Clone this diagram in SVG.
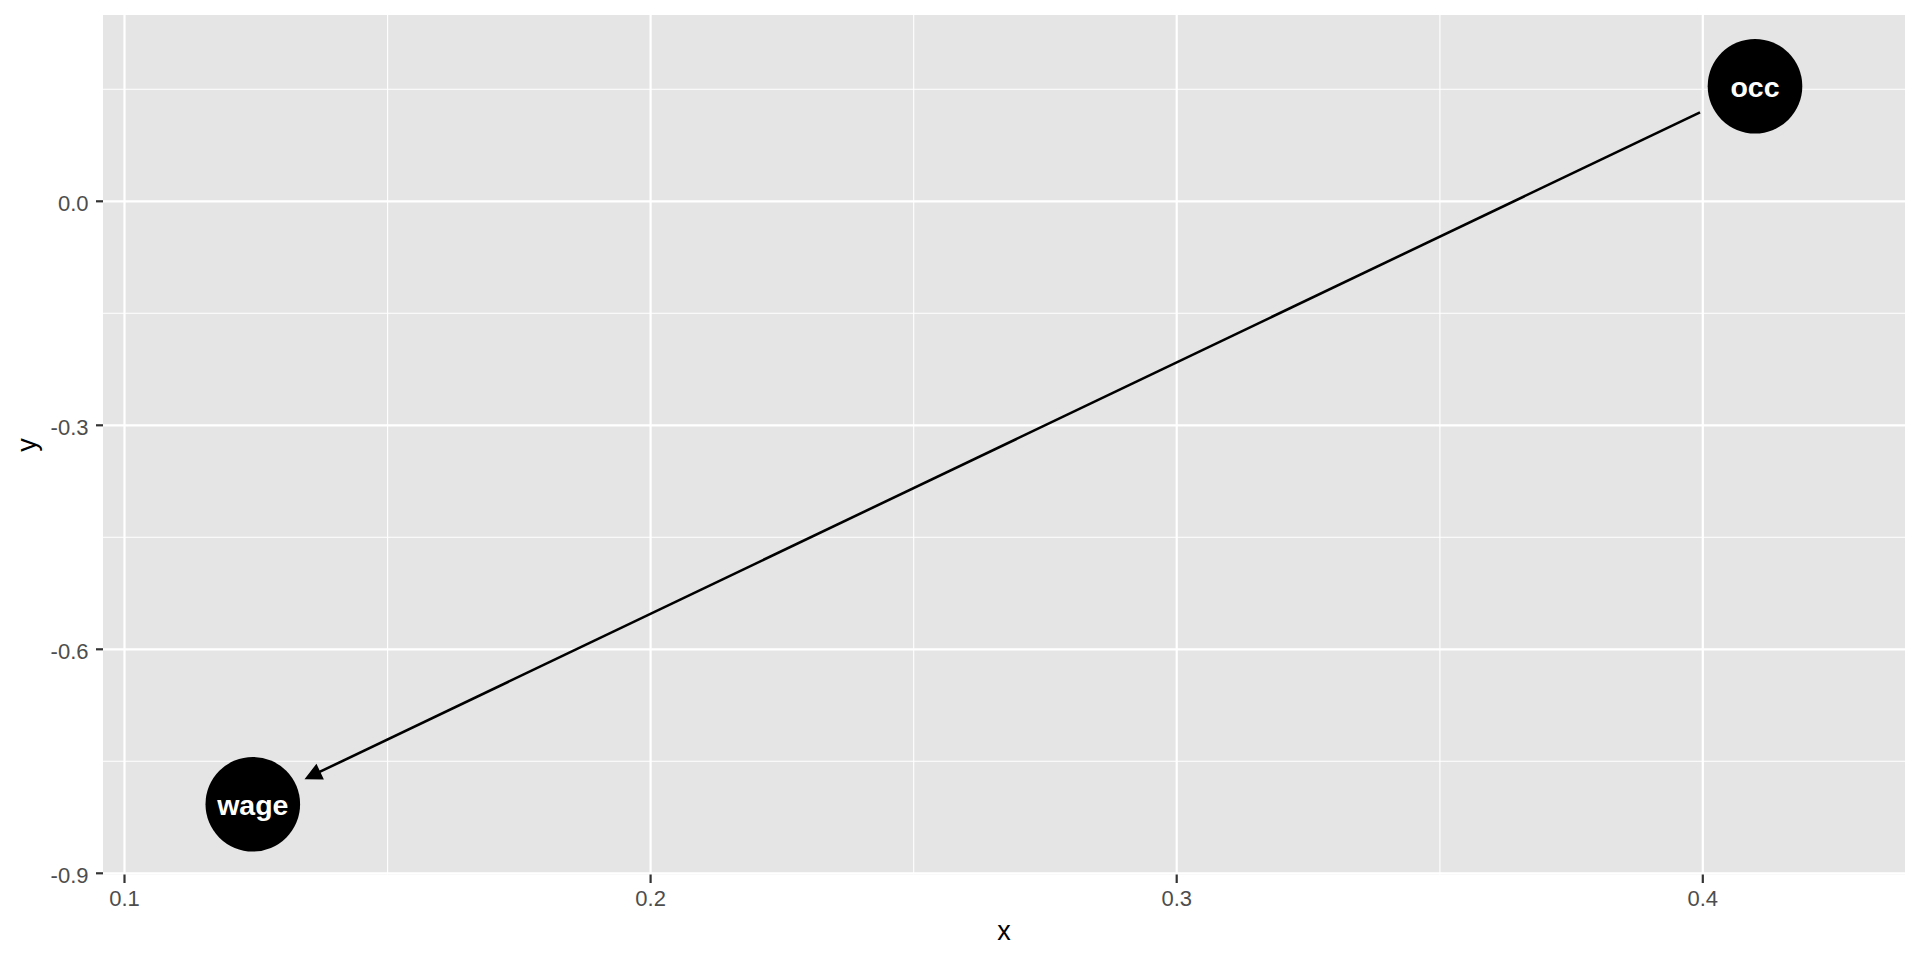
<svg xmlns="http://www.w3.org/2000/svg" width="1920" height="960" viewBox="0 0 1920 960">
  <style>
    .grid-major { stroke: #FFFFFF; stroke-width: 2.2; fill: none; }
    .grid-minor { stroke: #FFFFFF; stroke-width: 1.1; fill: none; }
    .tick { stroke: #333333; stroke-width: 2.2; }
    .tick-label { font-family: "Liberation Sans", Arial, sans-serif; font-size: 22px; fill: #4D4D4D; }
    .axis-title { font-family: "Liberation Sans", Arial, sans-serif; font-size: 27px; fill: #000000; }
    .node-circle { fill: #000000; }
    .node-label { font-family: "Liberation Sans", Arial, sans-serif; font-size: 28.5px; font-weight: bold; fill: #FFFFFF; text-anchor: middle; }
    .edge { stroke: #000000; stroke-width: 2.6; fill: none; }
    .arrowhead { fill: #000000; stroke: #000000; stroke-width: 1.5; stroke-linejoin: miter; }
  </style>
  <rect x="0" y="0" width="1920" height="960" fill="#FFFFFF"/>
  <g id="panel">
    <rect x="103" y="15" width="1802" height="859.5" fill="#E5E5E5"/>
    <g id="minor-grid">
      <line class="grid-minor" x1="103" x2="1905" y1="89.3" y2="89.3"/>
      <line class="grid-minor" x1="103" x2="1905" y1="313.3" y2="313.3"/>
      <line class="grid-minor" x1="103" x2="1905" y1="537.3" y2="537.3"/>
      <line class="grid-minor" x1="103" x2="1905" y1="761.3" y2="761.3"/>
      <line class="grid-minor" x1="387.6" x2="387.6" y1="15" y2="874.5"/>
      <line class="grid-minor" x1="913.7" x2="913.7" y1="15" y2="874.5"/>
      <line class="grid-minor" x1="1439.9" x2="1439.9" y1="15" y2="874.5"/>
    </g>
    <g id="major-grid">
      <line class="grid-major" x1="103" x2="1905" y1="201.3" y2="201.3"/>
      <line class="grid-major" x1="103" x2="1905" y1="425.3" y2="425.3"/>
      <line class="grid-major" x1="103" x2="1905" y1="649.3" y2="649.3"/>
      <line class="grid-major" x1="103" x2="1905" y1="873.3" y2="873.3"/>
      <line class="grid-major" x1="124.5" x2="124.5" y1="15" y2="874.5"/>
      <line class="grid-major" x1="650.6" x2="650.6" y1="15" y2="874.5"/>
      <line class="grid-major" x1="1176.7" x2="1176.7" y1="15" y2="874.5"/>
      <line class="grid-major" x1="1702.8" x2="1702.8" y1="15" y2="874.5"/>
    </g>
  </g>
  <g id="axes">
    <line class="tick" x1="96" x2="103" y1="201.3" y2="201.3"/>
    <line class="tick" x1="96" x2="103" y1="425.3" y2="425.3"/>
    <line class="tick" x1="96" x2="103" y1="649.3" y2="649.3"/>
    <line class="tick" x1="96" x2="103" y1="873.3" y2="873.3"/>
    <line class="tick" x1="124.5" x2="124.5" y1="874.5" y2="883"/>
    <line class="tick" x1="650.6" x2="650.6" y1="874.5" y2="883"/>
    <line class="tick" x1="1176.7" x2="1176.7" y1="874.5" y2="883"/>
    <line class="tick" x1="1702.8" x2="1702.8" y1="874.5" y2="883"/>
    <text class="tick-label" x="88.5" y="211" text-anchor="end">0.0</text>
    <text class="tick-label" x="88.5" y="435" text-anchor="end">-0.3</text>
    <text class="tick-label" x="88.5" y="659" text-anchor="end">-0.6</text>
    <text class="tick-label" x="88.5" y="883" text-anchor="end">-0.9</text>
    <text class="tick-label" x="124.5" y="906" text-anchor="middle">0.1</text>
    <text class="tick-label" x="650.6" y="906" text-anchor="middle">0.2</text>
    <text class="tick-label" x="1176.7" y="906" text-anchor="middle">0.3</text>
    <text class="tick-label" x="1702.8" y="906" text-anchor="middle">0.4</text>
    <text class="axis-title" x="1004" y="940" text-anchor="middle">x</text>
    <text class="axis-title" transform="translate(36,445) rotate(-90)" text-anchor="middle">y</text>
  </g>
  <g id="connectors">
    <line class="edge" x1="1700" y1="112.3" x2="318" y2="772.7"/>
    <polygon class="arrowhead" points="306,778.5 322.7,778.8 316.3,765.2"/>
  </g>
  <g id="node-occ">
    <circle class="node-circle" cx="1755" cy="86.2" r="47.3"/>
    <text class="node-label" x="1755" y="96.5">occ</text>
  </g>
  <g id="node-wage">
    <circle class="node-circle" cx="252.8" cy="804.2" r="47.3"/>
    <text class="node-label" x="252.8" y="814.5">wage</text>
  </g>
</svg>
